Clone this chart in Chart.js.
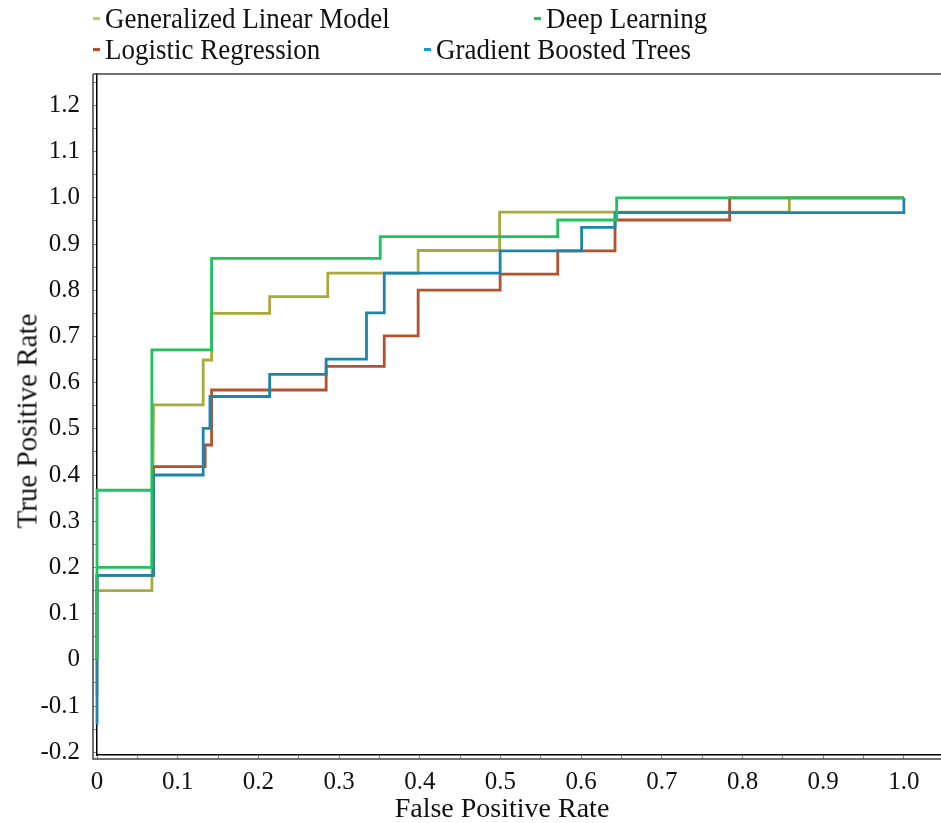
<!DOCTYPE html>
<html><head><meta charset="utf-8">
<script src="https://cdn.jsdelivr.net/npm/chart.js@4.4.1/dist/chart.umd.min.js"></script>
<style>
html,body{margin:0;padding:0;background:#fff;}
#wrap{position:relative;width:941px;height:823px;overflow:hidden;}
canvas{position:absolute;left:0;top:0;}
.lg{position:absolute;font-family:"Liberation Serif","Times New Roman",serif;font-size:27px;color:#111;line-height:30px;white-space:nowrap;transform:scaleY(1.08);transform-origin:0 50%;}
.lg i{position:absolute;left:-12px;top:14px;width:7px;height:3px;}
.ttl{position:absolute;font-family:"Liberation Serif","Times New Roman",serif;color:#111;white-space:nowrap;line-height:1;}
#xt{font-size:28px;left:502px;top:808px;transform:translate(-50%,-50%);}
#yt{font-size:29px;left:27px;top:421px;transform:translate(-50%,-50%) rotate(-90deg);}
</style></head><body>
<div id="wrap"><canvas id="c" width="941" height="823"></canvas><div id="legend"></div>
<div class="ttl" id="xt"></div><div class="ttl" id="yt"></div></div>
<script>
// ---- data ----
const seriesNames = ["Generalized Linear Model", "Deep Learning", "Logistic Regression", "Gradient Boosted Trees"];
const xTitle = "False Positive Rate";
const yTitle = "True Positive Rate";

const glmX = [0, 0, 0.068, 0.07, 0.1316, 0.1316, 0.142, 0.142, 0.214, 0.214, 0.286, 0.286, 0.398, 0.398, 0.499, 0.499, 0.858, 0.858, 1.0];
const glmY = [-0.08, 0.15, 0.15, 0.552, 0.552, 0.649, 0.649, 0.750, 0.750, 0.786, 0.786, 0.837, 0.837, 0.886, 0.886, 0.969, 0.969, 1.0, 1.0];

const dlX = [0, 0, 0.068, 0.068, 0, 0.068, 0.068, 0.142, 0.142, 0.351, 0.351, 0.571, 0.571, 0.644, 0.644, 1.0];
const dlY = [0, 0.367, 0.367, 0.2, 0.2, 0.2, 0.671, 0.671, 0.869, 0.869, 0.916, 0.916, 0.952, 0.952, 1.0, 1.0];

const lrX = [0, 0, 0.07, 0.07, 0.134, 0.134, 0.142, 0.142, 0.284, 0.284, 0.356, 0.356, 0.398, 0.398, 0.4996, 0.4996, 0.571, 0.571, 0.642, 0.642, 0.784, 0.784, 1.0];
const lrY = [0, 0.183, 0.183, 0.418, 0.418, 0.465, 0.465, 0.584, 0.584, 0.635, 0.635, 0.701, 0.701, 0.800, 0.800, 0.835, 0.835, 0.885, 0.885, 0.952, 0.952, 1.0, 1.0];

const gbtX = [0, 0, 0.07, 0.07, 0.1316, 0.1316, 0.14, 0.14, 0.214, 0.214, 0.284, 0.284, 0.334, 0.334, 0.356, 0.356, 0.4996, 0.4996, 0.6006, 0.6006, 0.642, 0.642, 1.0, 1.0];
const gbtY = [-0.14, 0.183, 0.183, 0.400, 0.400, 0.501, 0.501, 0.570, 0.570, 0.618, 0.618, 0.651, 0.651, 0.751, 0.751, 0.837, 0.837, 0.885, 0.885, 0.936, 0.936, 0.968, 0.968, 1.0];

const xTickValues = [0, 0.05, 0.1, 0.15, 0.2, 0.25, 0.3, 0.35, 0.4, 0.45, 0.5, 0.55, 0.6, 0.65, 0.7, 0.75, 0.8, 0.85, 0.9, 0.95, 1.0];
const xTickLabels = ["0", "", "0.1", "", "0.2", "", "0.3", "", "0.4", "", "0.5", "", "0.6", "", "0.7", "", "0.8", "", "0.9", "", "1.0"];
const yTickValues = [-0.2, -0.15, -0.1, -0.05, 0, 0.05, 0.1, 0.15, 0.2, 0.25, 0.3, 0.35, 0.4, 0.45, 0.5, 0.55, 0.6, 0.65, 0.7, 0.75, 0.8, 0.85, 0.9, 0.95, 1.0, 1.05, 1.1, 1.15, 1.2, 1.25];
const yTickLabels = ["-0.2", "", "-0.1", "", "0", "", "0.1", "", "0.2", "", "0.3", "", "0.4", "", "0.5", "", "0.6", "", "0.7", "", "0.8", "", "0.9", "", "1.0", "", "1.1", "", "1.2", ""];

// ---- styles ----
const lineColors = {"Generalized Linear Model": "#a9aa3c", "Deep Learning": "#1fc25c", "Logistic Regression": "#b5512e", "Gradient Boosted Trees": "#1b86ad"};
const markerColors = {"Generalized Linear Model": "#bccf6a", "Deep Learning": "#2cc05a", "Logistic Regression": "#b5512e", "Gradient Boosted Trees": "#1b9ac4"};
const legendPos = {"Generalized Linear Model": [105, 3], "Deep Learning": [546, 3], "Logistic Regression": [105, 34], "Gradient Boosted Trees": [436, 34]};
const drawOrder = {"Deep Learning": 0, "Gradient Boosted Trees": 1, "Logistic Regression": 2, "Generalized Linear Model": 3};

const zip = (xs, ys) => xs.map((x, i) => ({x: x, y: ys[i]}));
const seriesData = {
  "Generalized Linear Model": zip(glmX, glmY),
  "Deep Learning": zip(dlX, dlY),
  "Logistic Regression": zip(lrX, lrY),
  "Gradient Boosted Trees": zip(gbtX, gbtY)
};

// HTML legend and axis titles
const lg = document.getElementById('legend');
seriesNames.forEach(n => {
  const d = document.createElement('div');
  d.className = 'lg';
  d.style.left = legendPos[n][0] + 'px';
  d.style.top = legendPos[n][1] + 'px';
  d.innerHTML = '<i style="background:' + markerColors[n] + '"></i>';
  d.appendChild(document.createTextNode(n));
  lg.appendChild(d);
});
document.getElementById('xt').textContent = xTitle;
document.getElementById('yt').textContent = yTitle;

const frame = {
  id: 'frame',
  beforeDatasetsDraw(chart) {
    const a = chart.chartArea, c = chart.ctx;
    c.save();
    c.strokeStyle = '#444';
    c.lineWidth = 1.5;
    c.beginPath();
    c.moveTo(a.left - 4, a.top); c.lineTo(a.right, a.top);
    c.moveTo(a.left - 4, a.top); c.lineTo(a.left - 4, a.bottom + 4); c.lineTo(a.right, a.bottom + 4);
    c.stroke();
    c.restore();
  }
};

const serif = '"Liberation Serif", "Times New Roman", serif';
const ds = seriesNames.map(n => ({
  label: n, data: seriesData[n], borderColor: lineColors[n], backgroundColor: lineColors[n],
  borderWidth: 2.8, pointRadius: 0, fill: false, tension: 0, order: drawOrder[n], clip: false
}));

new Chart(document.getElementById('c'), {
  type: 'line',
  data: {datasets: ds},
  plugins: [frame],
  options: {
    responsive: false, animation: false,
    layout: {padding: {top: 74, left: 0, right: 0, bottom: 0}},
    plugins: {legend: {display: false}, tooltip: {enabled: false}},
    scales: {
      x: {
        type: 'linear', min: 0, max: 1.046,
        afterBuildTicks: s => { s.ticks = xTickValues.map(v => ({value: v})); },
        afterFit: s => { s.height = 68; },
        ticks: {font: {family: serif, size: 25}, color: '#111', padding: 8, maxRotation: 0, autoSkip: false,
          callback: (v) => { const i = xTickValues.findIndex(t => Math.abs(t - v) < 1e-6); return i >= 0 ? xTickLabels[i] : ''; }},
        grid: {drawOnChartArea: false, drawTicks: true, tickLength: 4, tickColor: '#888'},
        border: {display: true, color: '#000', width: 1.5},
        title: {display: false}
      },
      y: {
        type: 'linear', min: -0.206, max: 1.268,
        afterBuildTicks: s => { s.ticks = yTickValues.map(v => ({value: v})); },
        afterFit: s => { s.width = 97; },
        ticks: {font: {family: serif, size: 25}, color: '#111', padding: 13, autoSkip: false,
          callback: (v) => { const i = yTickValues.findIndex(t => Math.abs(t - v) < 1e-6); return i >= 0 ? yTickLabels[i] : ''; }},
        grid: {drawOnChartArea: false, drawTicks: true, tickLength: 4, tickColor: '#888'},
        border: {display: true, color: '#000', width: 1.5},
        title: {display: false}
      }
    }
  }
});
</script>
</body></html>
